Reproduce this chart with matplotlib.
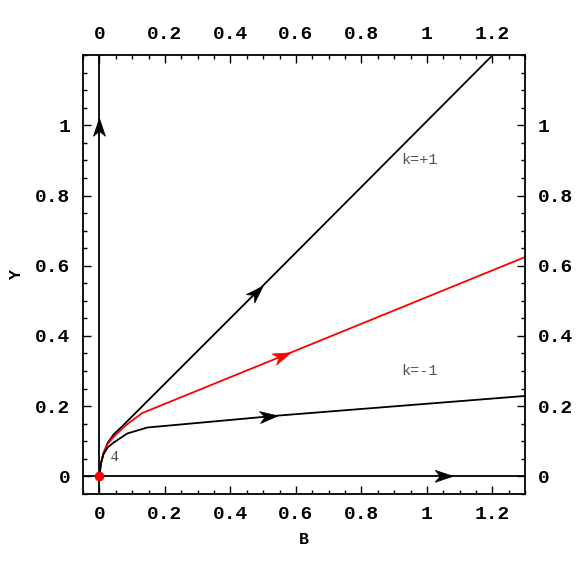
import numpy as np
import matplotlib.pyplot as plt
from matplotlib.ticker import MultipleLocator, FixedLocator
from matplotlib.patches import Polygon
from matplotlib.transforms import Affine2D, ScaledTranslation

# trajectories (B, Y)
upper_B = [0.0, 0.004, 0.012, 0.025, 0.043, 0.07, 0.5, 1.195]
upper_Y = [0.0, 0.035, 0.065, 0.095, 0.119, 0.143, 0.544, 1.195]
red_B = [0.0, 0.004, 0.012, 0.025, 0.043, 0.08, 0.13, 0.58, 1.3]
red_Y = [0.0, 0.035, 0.065, 0.092, 0.112, 0.145, 0.18, 0.351, 0.625]
lower_B = [0.0, 0.004, 0.012, 0.025, 0.043, 0.085, 0.146, 0.545, 1.3]
lower_Y = [0.0, 0.035, 0.062, 0.082, 0.096, 0.122, 0.139, 0.173, 0.229]

# arrowhead tips and direction (dB, dY) along each trajectory
arrow_tip = [(0.5, 0.542), (0.585, 0.352), (0.545, 0.172), (0.0, 1.02), (1.08, 0.0)]
arrow_dir = [(1.0, 0.937), (1.0, 0.38), (1.0, 0.085), (0.0, 1.0), (1.0, 0.0)]
arrow_col = ['black', 'red', 'black', 'black', 'black']

mono = 'Liberation Mono'

fig = plt.figure(figsize=(5.81, 5.81), dpi=100)
ax = fig.add_axes([0.143, 0.150, 0.761, 0.755])
ax.set_xlim(-0.05, 1.3)
ax.set_ylim(-0.05, 1.2)

ax.axhline(0, color='black', lw=1.3)
ax.axvline(0, color='black', lw=1.3)
ax.plot(upper_B, upper_Y, color='black', lw=1.3)
ax.plot(red_B, red_Y, color='red', lw=1.3)
ax.plot(lower_B, lower_Y, color='black', lw=1.3)

# notched arrowhead in pixels, tip at origin, pointing along +x
head = np.array([(0, 0), (-18, 6), (-13, 0), (-18, -6)])
sx, sy = 329, 353  # pixels per data unit
for (b, y), (db, dy), c in zip(arrow_tip, arrow_dir, arrow_col):
    ang = np.degrees(np.arctan2(dy * sy, db * sx))
    tr = Affine2D().rotate_deg(ang) + ScaledTranslation(b, y, ax.transData)
    ax.add_patch(Polygon(head, closed=True, transform=tr, facecolor=c,
                         edgecolor=c, lw=0.5, zorder=4))

ax.plot([0], [0], 'o', color='red', ms=6, zorder=5, clip_on=False)

ax.text(0.035, 0.045, '4', fontsize=11, color='#444444', family='Liberation Serif')
ax.text(0.92, 0.9, 'k=+1', fontsize=11, color='#555555', family=mono, va='center')
ax.text(0.92, 0.30, 'k=-1', fontsize=11, color='#555555', family=mono, va='center')

ax.xaxis.set_major_locator(MultipleLocator(0.2))
ax.yaxis.set_major_locator(FixedLocator([0, 0.2, 0.4, 0.6, 0.8, 1.0]))
ax.xaxis.set_minor_locator(MultipleLocator(0.05))
ax.yaxis.set_minor_locator(MultipleLocator(0.05))

fmt = lambda v, p: ('%g' % round(v, 2))
ax.xaxis.set_major_formatter(fmt)
ax.yaxis.set_major_formatter(fmt)

ax.tick_params(which='both', direction='in', top=True, right=True,
               labeltop=True, labelright=True, width=1)
ax.tick_params(which='major', length=6, pad=9)
ax.tick_params(which='minor', length=3)
for t in ax.xaxis.get_major_ticks() + ax.yaxis.get_major_ticks():
    for l in (t.label1, t.label2):
        l.set_family(mono)
        l.set_fontweight('bold')
        l.set_fontsize(14)

for s in ax.spines.values():
    s.set_linewidth(1.3)

ax.set_xlabel('B', family=mono, fontweight='bold', fontsize=12, labelpad=6)
ax.set_ylabel('Y', family=mono, fontweight='bold', fontsize=12, labelpad=8)

fig.savefig('out.png', dpi=100)
